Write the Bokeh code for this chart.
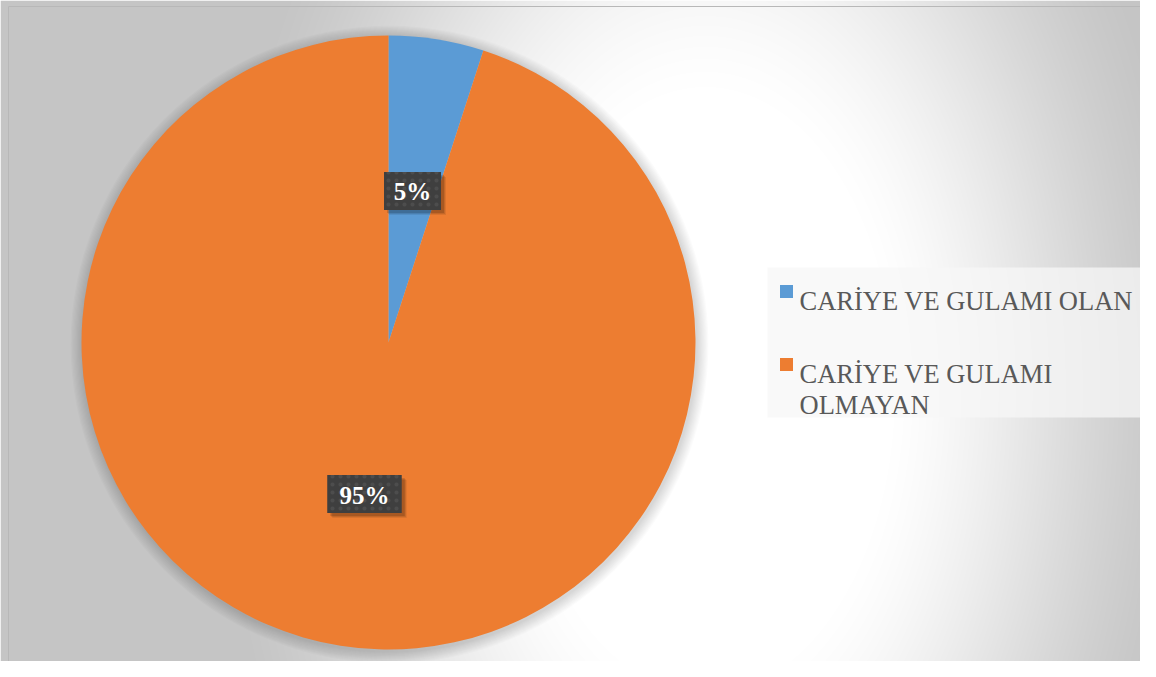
import numpy as np
import textwrap
from bokeh.plotting import figure
from bokeh.models import Range1d
from bokeh.core.properties import value
from bokeh.embed import file_html
from bokeh.resources import INLINE

# ---- data ----
categories = ["CARİYE VE GULAMI OLAN", "CARİYE VE GULAMI OLMAYAN"]
percents = [5, 95]
colors = ["#5B9BD5", "#ED7D31"]

SERIF = value("'Times New Roman', 'Liberation Serif', serif")

# ---- layout (screen pixel coordinates; data y = 677 - screen y) ----
W, H = 1140, 661
p = figure(width=W, height=H, output_backend="svg", toolbar_location=None,
           x_range=Range1d(0, W), y_range=Range1d(677 - H, 677),
           min_border=0, tools="")
p.axis.visible = False
p.grid.visible = False
p.outline_line_color = None
p.background_fill_color = "#ffffff"
p.border_fill_color = "#ffffff"

# background radial gradient (decoration)
PX, ROW = np.meshgrid(np.arange(W) + 0.5, np.arange(H))
PY = 677 - ((677 - H) + ROW + 0.5)
gx, gy = 705.0, 390.0
d = np.sqrt((PX - gx) ** 2 + ((PY - gy) / 1.6) ** 2)
t = np.clip((d - 190.0) / 300.0, 0, 1)
t = t * t * (3 - 2 * t) * 0.5 + t * 0.5
g = (255 - 58 * t).astype(np.uint32)
img = (255 << 24) | (g << 16) | (g << 8) | g
p.image_rgba(image=[img.astype(np.uint32)], x=0, y=677 - H, dw=W, dh=H)
# thin chart-area edge (top / left)
p.line(x=[8, 8, W], y=[0, 677 - 6, 677 - 6], line_color="#b8b8b8", line_width=1)

# pie geometry
cx, cy_page, R = 388, 342, 307
cy = 677 - cy_page

# soft shadow around pie
for k in range(1, 11):
    p.circle(x=cx + 1, y=cy - 2, radius=R + 1.2 * k, fill_color="black",
             fill_alpha=0.016, line_color=None)

tot = float(sum(percents))
cum = np.concatenate([[0], np.cumsum(percents)]) / tot
starts = np.pi / 2 - 2 * np.pi * cum[:-1]
ends = np.pi / 2 - 2 * np.pi * cum[1:]
p.wedge(x=[cx] * len(percents), y=[cy] * len(percents), radius=R,
        start_angle=list(starts), end_angle=list(ends), direction="clock",
        fill_color=colors, line_color=None)

# data labels
mids = (starts + ends) / 2
lr = 0.5 * R
lx = cx + lr * np.cos(mids)
ly = cy + lr * np.sin(mids)
labels = [f"{v}%" for v in percents]
bw = [22 + 17.5 * len(s) for s in labels]
bh = 38
for off, a in [(5, 0.08), (4, 0.10), (3, 0.14)]:
    p.rect(x=list(lx + off), y=list(ly - off), width=bw, height=bh,
           fill_color="black", fill_alpha=a, line_color=None)
p.rect(x=list(lx), y=list(ly), width=bw, height=bh, fill_color="#3f3f3f",
       line_color=None, hatch_pattern="dot", hatch_color="#4d4d4d",
       hatch_scale=8, hatch_weight=1.5)
p.text(x=list(lx), y=list(ly - 1), text=labels, text_align="center",
       text_baseline="middle", text_color="white", text_font_style="bold",
       text_font=SERIF, text_font_size="25px")

# legend
lg_left, lg_right, lg_top, lg_bot = 767, 1146, 267, 417
p.quad(left=lg_left, right=lg_right, top=677 - lg_top, bottom=677 - lg_bot,
       fill_color="#f7f7f7", fill_alpha=0.75, line_color=None)
first_base = 300
line_h = 31
item_gap = 73
for i, (cat, col) in enumerate(zip(categories, colors)):
    base = first_base + i * item_gap
    p.rect(x=786, y=677 - (base - 9), width=13, height=13, fill_color=col,
           line_color=None)
    lines = textwrap.wrap(cat, 21)
    p.text(x=[799] * len(lines), y=[677 - (base + j * line_h) for j in range(len(lines))],
           text=lines, text_align="left", text_baseline="alphabetic",
           text_color="#595959", text_font=SERIF,
           text_font_size="26.5px")

open("out.html", "w").write(file_html(p, INLINE))
